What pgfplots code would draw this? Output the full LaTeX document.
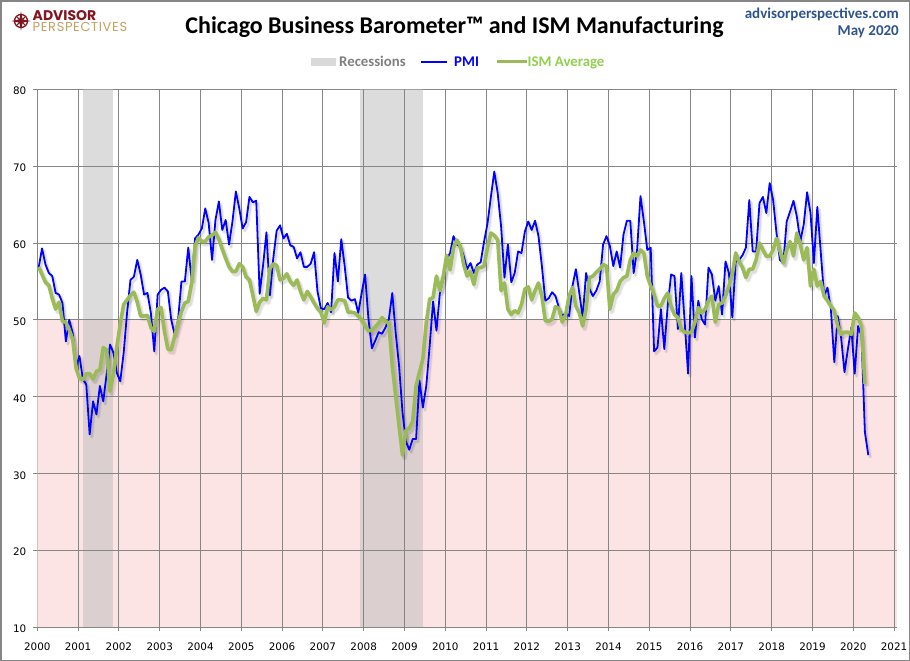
\documentclass[border=0pt]{standalone}
\usepackage{fontspec}
\setmainfont{Carlito}
\newfontfamily\tickfont{DejaVu Sans}
\newfontfamily\logofont{Poppins}
\usepackage{pgfplots}
\usepackage{pgfplotstable}
\pgfplotsset{compat=1.18}
\definecolor{gridgray}{RGB}{134,134,134}
\definecolor{pinkband}{RGB}{253,228,228}
\definecolor{recgray}{RGB}{187,187,187}
\definecolor{pmiblue}{RGB}{0,0,255}
\definecolor{ismgreen}{RGB}{155,187,89}
\definecolor{ismtext}{RGB}{146,208,80}
\definecolor{logored}{RGB}{130,22,32}
\definecolor{logogold}{RGB}{196,162,92}
\definecolor{webblue}{RGB}{46,84,140}
\definecolor{legtext}{RGB}{128,128,128}

% Chicago PMI, monthly from Jan 2000
\pgfplotstableread[row sep=\\]{v\\
56.8\\59.3\\57.2\\56.1\\55.7\\53.5\\53.3\\52.2\\47.2\\50.0\\48.3\\43.8\\
45.3\\42.3\\41.6\\35.1\\39.4\\37.7\\41.4\\39.4\\43.0\\46.8\\45.7\\43.1\\
42.0\\45.7\\50.9\\55.2\\55.6\\57.8\\55.9\\53.3\\53.5\\50.9\\45.9\\53.3\\
53.9\\54.2\\53.7\\50.0\\48.1\\50.0\\55.0\\55.0\\59.4\\55.2\\60.6\\61.1\\
61.9\\64.5\\62.6\\57.8\\63.0\\65.4\\61.7\\63.0\\59.8\\62.8\\66.7\\64.5\\
61.9\\62.7\\66.0\\65.3\\65.5\\53.4\\57.1\\61.4\\53.2\\58.0\\61.6\\62.3\\
60.6\\61.2\\59.7\\59.5\\58.0\\58.8\\56.9\\56.9\\57.3\\58.8\\53.7\\51.5\\
51.4\\52.2\\51.0\\58.7\\55.0\\60.5\\57.0\\52.9\\52.5\\52.7\\50.9\\53.5\\
55.9\\50.1\\46.3\\47.3\\48.4\\48.2\\49.0\\50.1\\53.5\\48.3\\44.0\\38.0\\
34.2\\33.1\\34.5\\34.5\\42.1\\38.6\\41.4\\46.6\\52.4\\48.6\\53.5\\55.3\\
57.8\\58.7\\60.9\\59.8\\59.6\\58.3\\56.6\\57.4\\56.1\\57.2\\57.5\\60.2\\
62.5\\66.0\\69.3\\66.5\\62.2\\55.5\\59.8\\54.9\\56.1\\58.9\\58.7\\61.5\\
62.8\\61.7\\62.9\\60.9\\57.0\\52.5\\52.8\\53.6\\53.1\\51.6\\50.5\\50.9\\
50.5\\54.4\\56.6\\53.5\\50.3\\56.1\\54.0\\53.1\\53.8\\55.0\\59.8\\60.9\\
59.6\\57.0\\58.9\\56.8\\61.1\\62.9\\62.9\\56.1\\59.1\\66.1\\62.8\\59.1\\
59.4\\45.9\\46.4\\51.4\\46.2\\51.8\\55.9\\55.7\\48.8\\56.1\\49.7\\43.0\\
55.7\\47.7\\52.5\\50.1\\49.4\\56.8\\55.9\\52.5\\54.4\\50.7\\57.6\\56.1\\
50.3\\57.6\\57.8\\58.4\\59.4\\65.6\\58.9\\58.9\\65.2\\66.0\\63.9\\67.8\\
65.6\\61.3\\57.8\\57.4\\62.8\\64.1\\65.5\\63.4\\60.2\\62.4\\66.6\\63.9\\
57.4\\64.7\\58.9\\53.1\\54.2\\51.4\\44.5\\50.5\\47.7\\43.2\\46.2\\49.0\\
43.0\\49.2\\47.9\\35.4\\32.4\\
}\pmi

% ISM manufacturing, monthly from Jan 2000
\pgfplotstableread[row sep=\\]{v\\
56.9\\55.9\\54.9\\54.5\\52.8\\51.4\\52.3\\49.8\\49.7\\48.7\\47.5\\43.7\\
42.4\\42.2\\43.0\\43.0\\42.3\\43.3\\43.5\\46.4\\46.1\\40.7\\43.0\\46.5\\
49.5\\52.0\\52.6\\53.2\\53.6\\52.3\\50.5\\50.5\\50.6\\49.0\\48.5\\51.4\\
51.6\\48.5\\46.2\\46.1\\47.9\\49.6\\51.1\\52.2\\52.4\\54.8\\59.6\\60.7\\
60.2\\60.2\\60.8\\61.0\\61.4\\60.5\\59.2\\58.0\\56.9\\56.3\\56.3\\57.3\\
56.9\\55.6\\55.2\\53.2\\51.1\\52.3\\52.8\\52.6\\56.7\\57.3\\57.1\\55.2\\
55.4\\56.0\\55.0\\54.5\\55.2\\53.7\\52.6\\53.7\\53.0\\52.2\\51.5\\51.0\\
49.6\\51.7\\51.3\\51.7\\52.6\\52.6\\52.5\\51.0\\51.0\\50.9\\50.5\\50.0\\
49.2\\48.6\\48.6\\49.1\\49.6\\50.3\\49.8\\49.6\\44.0\\40.1\\36.2\\32.4\\
35.6\\35.9\\36.8\\41.4\\43.2\\44.9\\49.6\\52.7\\52.9\\55.7\\53.8\\55.7\\
58.4\\56.5\\59.4\\60.4\\59.6\\57.2\\55.7\\56.3\\54.6\\56.8\\56.8\\57.0\\
59.4\\61.3\\61.0\\60.4\\53.8\\54.8\\51.4\\50.7\\51.2\\50.9\\52.0\\54.0\\
54.3\\52.6\\53.8\\54.8\\53.1\\49.9\\49.8\\50.1\\51.7\\51.5\\49.7\\50.7\\
53.1\\54.2\\51.8\\50.9\\49.2\\51.5\\55.5\\55.7\\56.2\\56.6\\57.2\\57.0\\
51.4\\53.3\\53.8\\55.0\\55.5\\55.7\\57.8\\58.7\\58.3\\59.1\\58.7\\55.7\\
54.4\\53.3\\51.8\\51.8\\52.8\\53.5\\51.8\\50.7\\50.3\\48.8\\48.4\\48.3\\
48.4\\49.7\\51.6\\50.9\\51.4\\52.5\\53.1\\49.7\\52.0\\52.2\\53.1\\54.4\\
55.9\\58.7\\57.6\\56.8\\55.5\\56.6\\56.6\\57.8\\60.0\\59.1\\58.3\\58.3\\
59.1\\60.6\\59.0\\57.4\\59.1\\60.2\\58.3\\61.3\\59.8\\57.8\\59.4\\54.4\\
56.6\\54.4\\55.0\\53.1\\52.5\\51.8\\51.2\\49.2\\48.1\\48.4\\48.4\\48.1\\
50.9\\50.3\\49.2\\41.7\\
}\ism

% recession bands (start, end) and the sub-50 band
\pgfplotstableread{
x y
2001.13 80
2001.86 80
}\recA
\pgfplotstableread{
x y
2007.92 80
2009.46 80
}\recB
\pgfplotstableread{
x y
2000 50
2021.07 50
}\band

\begin{document}
\begin{tikzpicture}
\useasboundingbox (0bp,0bp) rectangle (910bp,-661bp);
\fill[white] (0bp,0bp) rectangle (910bp,-661bp);
\draw[gridgray, line width=1.5bp] (0.75bp,-0.75bp) rectangle (909.25bp,-660.25bp);

\begin{axis}[
  at={(37.3bp,-627.3bp)}, anchor=south west,
  scale only axis, width=859.7bp, height=538bp,
  xmin=2000, xmax=2021.07, ymin=10, ymax=80,
  axis x line*=bottom, axis y line*=left,
  axis line style={draw=gridgray, line width=0.9bp, -},
  xtick={2000,...,2021}, ytick={10,20,...,80},
  grid=major, major grid style={draw=gridgray, line width=0.9bp},
  tick align=outside, major tick length=4bp,
  tick style={draw=gridgray, line width=0.9bp},
  /pgf/number format/1000 sep={},
  /pgf/number format/assume math mode=true,
  ticklabel style={font=\tickfont\fontsize{10.4}{12}\selectfont, text=black},
  xticklabel style={anchor=base, yshift=-19bp},
  yticklabel style={anchor=base east, yshift=-5.5bp, xshift=-3.5bp},
]
\addplot[fill=pinkband, draw=none] table[x=x,y=y]{\band} |- (axis cs:2000,10) -- cycle;
\addplot[fill=recgray, fill opacity=0.5, draw=none] table[x=x,y=y]{\recA} |- (axis cs:2001.13,10) -- cycle;
\addplot[fill=recgray, fill opacity=0.5, draw=none] table[x=x,y=y]{\recB} |- (axis cs:2007.92,10) -- cycle;
% grid redrawn above the shaded areas
\pgfplotsinvokeforeach{2001,...,2021}{\draw[gridgray, line width=0.9bp] (axis cs:#1,10) -- (axis cs:#1,80);}
\pgfplotsinvokeforeach{20,30,...,70}{\draw[gridgray, line width=0.9bp] (axis cs:2000,#1) -- (axis cs:2021.07,#1);}

% soft shadows
\addplot[black, opacity=0.06, line width=3.6bp, line join=round, xshift=2bp, yshift=-2.6bp, no markers]
  table[x expr=2000+(\coordindex+0.4)/12, y=v]{\pmi};
\addplot[black, opacity=0.08, line width=1.8bp, line join=round, xshift=2bp, yshift=-2.6bp, no markers]
  table[x expr=2000+(\coordindex+0.4)/12, y=v]{\pmi};
\addplot[black, opacity=0.06, line width=5.6bp, line join=round, xshift=2bp, yshift=-2.6bp, no markers]
  table[x expr=2000+(\coordindex+0.4)/12, y=v]{\ism};
\addplot[black, opacity=0.07, line width=3.6bp, line join=round, xshift=2bp, yshift=-2.6bp, no markers]
  table[x expr=2000+(\coordindex+0.4)/12, y=v]{\ism};
% series
\addplot[pmiblue, line width=1.8bp, line join=round, no markers]
  table[x expr=2000+(\coordindex+0.4)/12, y=v]{\pmi};
\addplot[ismgreen, line width=3.6bp, line join=round, no markers]
  table[x expr=2000+(\coordindex+0.4)/12, y=v]{\ism};
\end{axis}

% title
\node[anchor=base, inner sep=0, font=\fontsize{24bp}{26bp}\selectfont\bfseries] at (454.5bp,-33bp) {Chicago Business Barometer™ and ISM Manufacturing};
% top right
\node[anchor=base east, inner sep=0, text=webblue, font=\fontsize{15bp}{17bp}\selectfont\bfseries] at (899bp,-18bp) {advisorperspectives.com};
\node[anchor=base east, inner sep=0, text=webblue, font=\fontsize{15bp}{17bp}\selectfont\bfseries] at (899bp,-35.5bp) {May 2020};
% logo
\begin{scope}[shift={(21bp,-21bp)}, x=1bp, y=1bp]
  \draw[logored, line width=1.3bp] (0,0) circle (6.5bp);
  \fill[logored] (0,9.5) -- (1.6,1.6) -- (9.5,0) -- (1.6,-1.6) -- (0,-9.5) -- (-1.6,-1.6) -- (-9.5,0) -- (-1.6,1.6) -- cycle;
  \fill[logored] (5,5) -- (0.9,-0.9) -- (-5,-5) -- (-0.9,0.9) -- cycle;
  \fill[logored] (-5,5) -- (0.9,0.9) -- (5,-5) -- (-0.9,-0.9) -- cycle;
\end{scope}
\node[anchor=base west, inner sep=0, text height=10bp, text depth=0bp, text=logored, font=\logofont\fontsize{14bp}{16bp}\selectfont\bfseries] at (32.5bp,-20.3bp) {ADVISOR};
\node[anchor=base west, inner sep=0, text height=9bp, text depth=0bp, text=logogold, font=\logofont\fontsize{13bp}{14bp}\selectfont\addfontfeatures{LetterSpace=5}] at (32.5bp,-31.3bp) {PERSPECTIVES};
% legend
\fill[black!15] (311bp,-57.5bp) rectangle (336bp,-65.5bp);
\node[anchor=base west, inner sep=0, text=legtext, font=\fontsize{14.8bp}{16bp}\selectfont\bfseries] at (339bp,-66bp) {Recessions};
\draw[pmiblue, line width=2bp] (421bp,-61.5bp) -- (447bp,-61.5bp);
\node[anchor=base west, inner sep=0, text=pmiblue, font=\fontsize{14.8bp}{16bp}\selectfont\bfseries] at (454bp,-66bp) {PMI};
\draw[ismgreen, line width=3.6bp] (497bp,-61.5bp) -- (527bp,-61.5bp);
\node[anchor=base west, inner sep=0, text=ismtext, font=\fontsize{14.8bp}{16bp}\selectfont\bfseries] at (527.5bp,-66bp) {ISM Average};
\end{tikzpicture}
\end{document}
